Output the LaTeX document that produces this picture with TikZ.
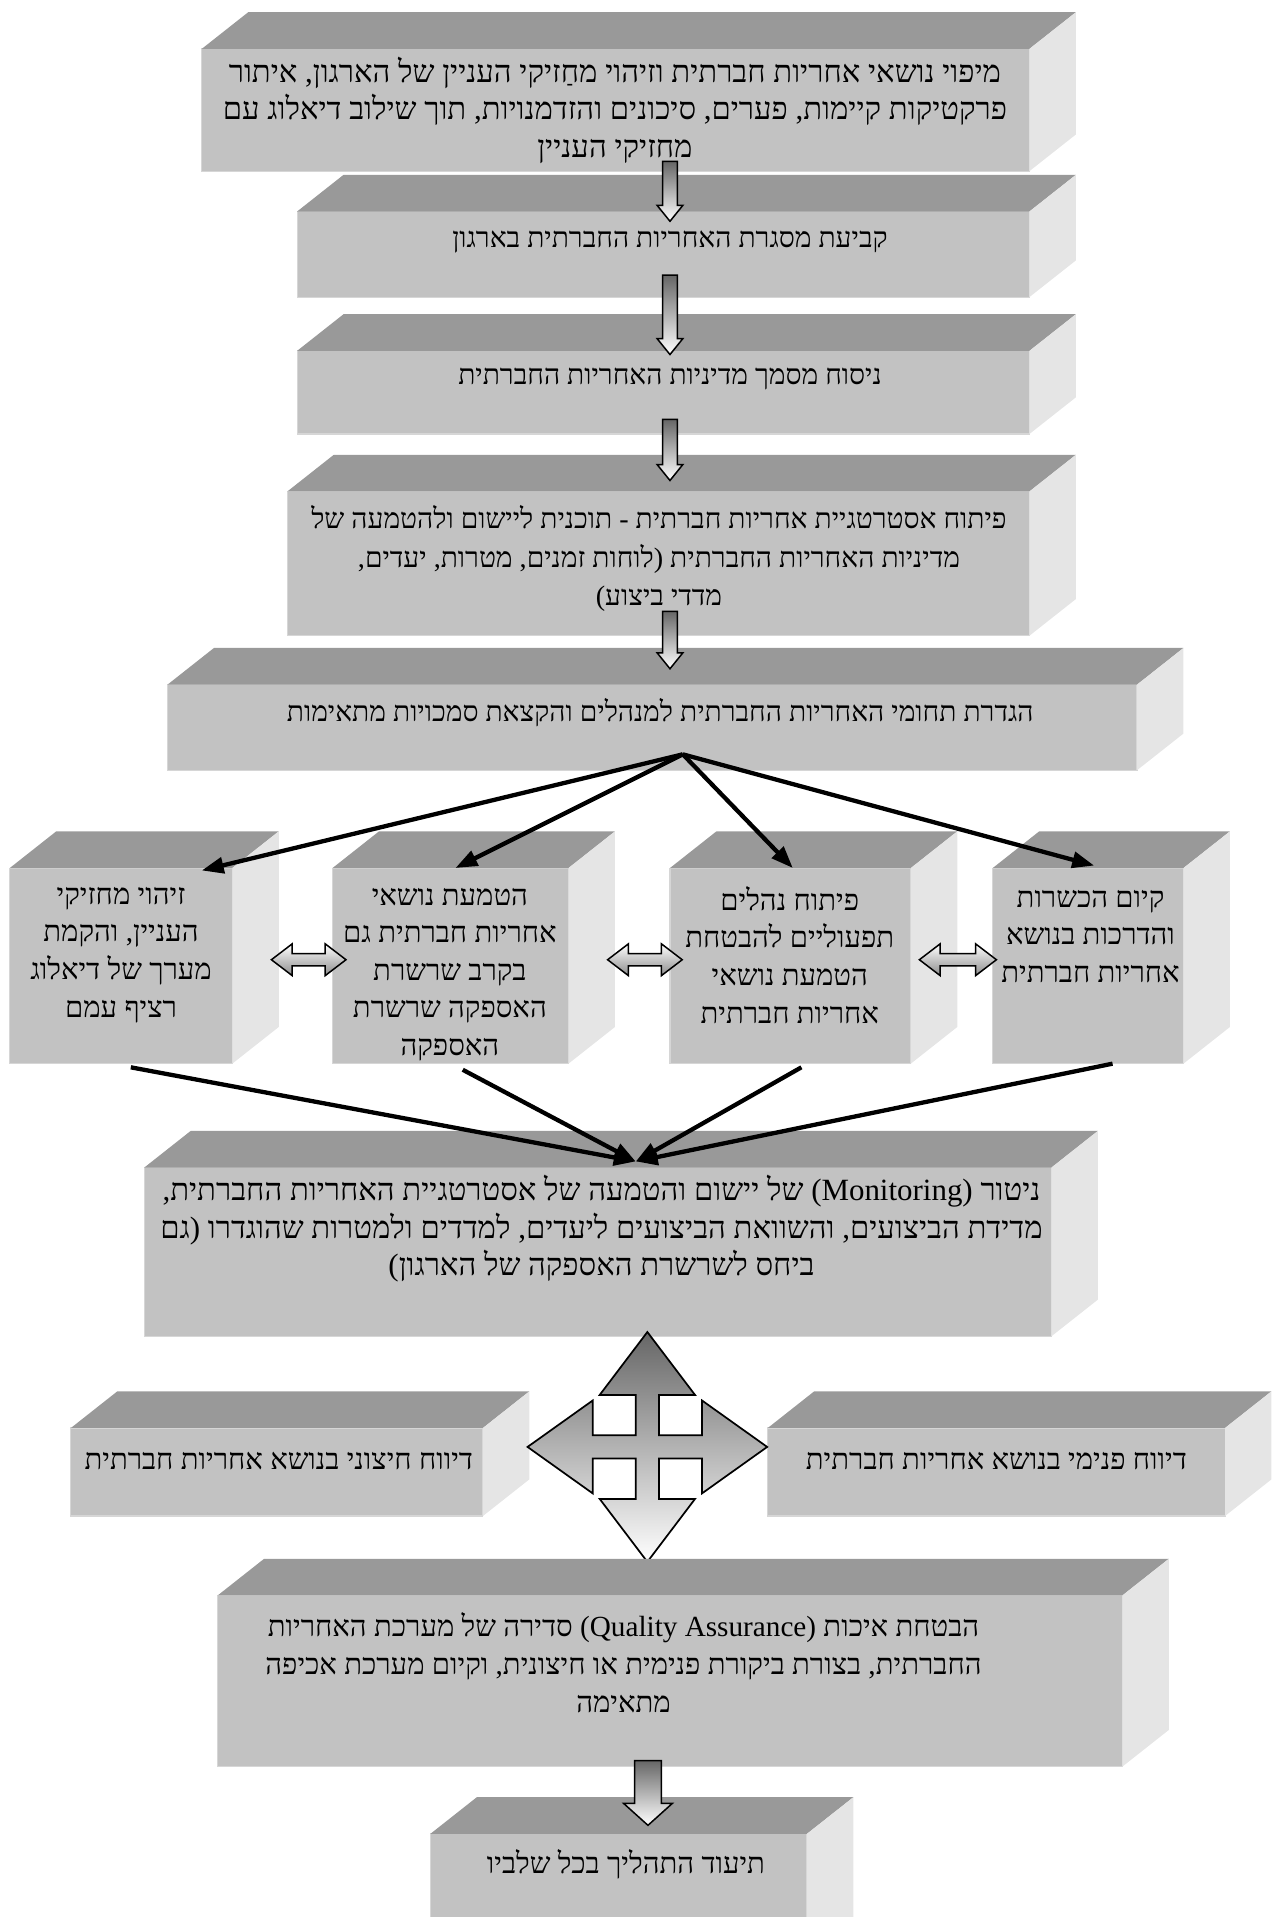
\documentclass[tikz,border=0pt]{standalone}
\usepackage{fontspec}
\usepackage{tikz}
\usetikzlibrary{calc}
\usetikzlibrary{fit}
\usetikzlibrary{arrows.meta}
\usepackage{xcolor}
\TeXXeTstate=1
\newfontfamily\hebfont[Script=Hebrew]{Liberation Serif}
\newcommand{\heb}[1]{\beginR #1\endR}

% 立体方块: 名称, 左上角, 右下角 (正面)
\newcommand{\slab}[5]{%
  \node[front, fit={(#2,#3) (#4,#5)}] (#1) {};
  \fill[topface] (#1.north west) -- ++(38,-30) -- ([shift={(38,-30)}]#1.north east) -- (#1.north east) -- cycle;
  \fill[sideface] (#1.north east) -- ++(38,-30) -- ([shift={(38,-30)}]#1.south east) -- (#1.south east) -- cycle;
}
% 向下的空心箭头: 起点, 箭尖, 杆半宽, 头半宽, 头长
\newcommand{\blockdown}[5]{%
  \draw[blockarrow] ($(#1)+(-#3,0)$) -- ($(#2)+(-#3,-#5)$) -- ($(#2)+(-#4,-#5)$) -- (#2)
    -- ($(#2)+(#4,-#5)$) -- ($(#2)+(#3,-#5)$) -- ($(#1)+(#3,0)$) -- cycle;
}
% 左右双向箭头: 左端, 右端, 杆半高, 头半高, 头长
\newcommand{\blockboth}[5]{%
  \draw[sidearrow] (#1) -- ($(#1)+(#5,-#4)$) -- ($(#1)+(#5,-#3)$) -- ($(#2)+(-#5,-#3)$)
    -- ($(#2)+(-#5,-#4)$) -- (#2) -- ($(#2)+(-#5,#4)$) -- ($(#2)+(-#5,#3)$)
    -- ($(#1)+(#5,#3)$) -- ($(#1)+(#5,#4)$) -- cycle;
}

\begin{document}
\begin{tikzpicture}[x=0.02cm, y=-0.02cm]
        % ================= 样式定义 =================
        \tikzset{
            % 方块正面
            front/.style={inner sep=0pt, outer sep=0pt, fill=black!24, draw=black!16, line width=0.5pt},
            % 方块顶面与侧面
            topface/.style={fill=black!40},
            sideface/.style={fill=black!10},
            % 文字 (宽行略大, 窄行略小)
            txt/.style={font=\fontsize{13.6}{17.5}\selectfont\hebfont, align=center, inner sep=0pt},
            bigtxt/.style={txt, font=\fontsize{14.4}{17.5}\selectfont\hebfont},
            smalltxt/.style={txt, font=\fontsize{13.1}{18}\selectfont\hebfont},
            % 渐变空心箭头
            blockarrow/.style={draw=black, line width=0.7pt, top color=black!60, bottom color=white},
            sidearrow/.style={draw=black, line width=0.7pt, top color=white, bottom color=black!45},
            crossarrow/.style={draw=black, line width=0.8pt, top color=black!60, bottom color=white},
            % 黑色实线箭头
            fanline/.style={line width=2pt, -{Triangle[length=3.6mm, width=2.6mm]}}
        }
        \useasboundingbox (0,0) rectangle (1042,1568);
        \clip (0,0) rectangle (1042,1568);

        % ================= 上部流程方块 =================
        \slab{map}{165}{40}{842}{140}
        \slab{frame}{243}{173}{842}{243}
        \slab{policy}{243}{287}{842}{355}
        \slab{strategy}{235}{402}{842}{520}
        \slab{define}{137}{560}{930}{630}

        \node[bigtxt] (t-map) at (503,90) {\heb{מיפוי נושאי אחריות חברתית וזיהוי מחַזיקי העניין של הארגון, איתור}\\
            \heb{פרקטיקות קיימות, פערים, סיכונים והזדמנויות, תוך שילוב דיאלוג עם}\\
            \heb{מחזיקי העניין}};
        \node[smalltxt] (t-frame) at (548,198) {\heb{קביעת מסגרת האחריות החברתית בארגון}};
        \node[smalltxt] (t-policy) at (548,310) {\heb{ניסוח מסמך מדיניות האחריות החברתית}};
        \node[smalltxt] (t-strategy) at (539,457) {\heb{פיתוח אסטרטגיית אחריות חברתית - תוכנית ליישום ולהטמעה של}\\
            \heb{מדיניות האחריות החברתית (לוחות זמנים, מטרות, יעדים,}\\
            \heb{מדדי ביצוע)}};
        \node[smalltxt] (t-define) at (540,583) {\heb{הגדרת תחומי האחריות החברתית למנהלים והקצאת סמכויות מתאימות}};

        % 向下箭头 (沿同一竖线)
        \coordinate (spine) at (548,0);
        \coordinate (s1) at ($(spine |- map.south)+(0,-8)$);
        \coordinate (e1) at ($(spine |- frame.north)+(0,8)$);
        \blockdown{s1}{e1}{6}{10.5}{13}
        \coordinate (s2) at ($(spine |- frame.south)+(0,-18)$);
        \coordinate (e2) at ($(spine |- policy.north)+(0,3)$);
        \blockdown{s2}{e2}{6}{10.5}{13}
        \coordinate (s3) at ($(spine |- policy.south)+(0,-12)$);
        \coordinate (e3) at ($(spine |- strategy.north)+(0,-9)$);
        \blockdown{s3}{e3}{6}{10.5}{13}
        \coordinate (s4) at ($(spine |- strategy.south)+(0,-20)$);
        \coordinate (e4) at ($(spine |- define.north)+(0,-13)$);
        \blockdown{s4}{e4}{6}{10.5}{13}

        % ================= 四个并列方块 =================
        \slab{stake}{8}{710}{190}{870}
        \slab{supply}{272}{710}{465}{870}
        \slab{proc}{548}{710}{745}{870}
        \slab{train}{812}{710}{968}{870}

        \node[txt] (t-stake) at (99,781) {\heb{זיהוי מחזיקי}\\\heb{העניין, והקמת}\\\heb{מערך של דיאלוג}\\\heb{רציף עמם}};
        \node[txt] (t-supply) at (368,797) {\heb{הטמעת נושאי}\\\heb{אחריות חברתית גם}\\\heb{בקרב שרשרת}\\\heb{האספקה שרשרת}\\\heb{האספקה}};
        \node[txt] (t-proc) at (646,781) {\heb{פיתוח נהלים}\\\heb{תפעוליים להבטחת}\\\heb{הטמעת נושאי}\\\heb{אחריות חברתית}};
        \node[txt] (t-train) at (892,766) {\heb{קיום הכשרות}\\\heb{והדרכות בנושא}\\\heb{אחריות חברתית}};

        % 分叉箭头
        \coordinate (fan) at ([shift={(25,-13)}]define.south);
        \draw[fanline] (fan) -- ([shift={(-25,2)}]stake.north east);
        \draw[fanline] (fan) -- ([shift={(4,0)}]supply.north);
        \draw[fanline] (fan) -- ([shift={(2,0)}]proc.north);
        \draw[fanline] (fan) -- ([shift={(5,-2)}]train.north);

        % 双向箭头
        \coordinate (ab1) at ($(stake.east)+(32,-5)$);
        \coordinate (ab2) at ($(supply.west)+(11,-5)$);
        \blockboth{ab1}{ab2}{5}{13}{17}
        \coordinate (bc1) at ($(supply.east)+(32,-5)$);
        \coordinate (bc2) at ($(proc.west)+(10,-5)$);
        \blockboth{bc1}{bc2}{5}{13}{17}
        \coordinate (cd1) at ($(proc.east)+(7,-5)$);
        \coordinate (cd2) at ($(train.west)+(3,-5)$);
        \blockboth{cd1}{cd2}{5}{13}{17}

        % ================= 监测方块 =================
        \slab{moni}{118}{955}{860}{1093}
        \node[bigtxt] (t-moni) at (492,1005) {\heb{ניטור (Monitoring) של יישום והטמעה של אסטרטגיית האחריות החברתית,}\\
            \heb{מדידת הביצועים, והשוואת הביצועים ליעדים, למדדים ולמטרות שהוגדרו (גם}\\
            \heb{ביחס לשרשרת האספקה של הארגון)}};

        % 汇合箭头
        \coordinate (join) at ([shift={(31,-5)}]moni.north);
        \draw[fanline] ([shift={(8,3)}]stake.south) -- (join);
        \draw[fanline] ([shift={(10,5)}]supply.south) -- (join);
        \draw[fanline] ([shift={(9,3)}]proc.south) -- (join);
        \draw[fanline] ([shift={(20,0)}]train.south) -- (join);

        % ================= 报告方块与十字箭头 =================
        \slab{extrep}{58}{1168}{395}{1240}
        \slab{intrep}{628}{1168}{1002}{1240}
        \node[txt] (t-extrep) at (228,1195) {\heb{דיווח חיצוני בנושא אחריות חברתית}};
        \node[txt] (t-intrep) at (815,1195) {\heb{דיווח פנימי בנושא אחריות חברתית}};

        \coordinate (hub) at (529.5,1183.5);
        \begin{scope}[shift={(hub)}]
            \draw[crossarrow] (0,-94) -- (39,-42.5) -- (9.5,-42.5) -- (9.5,-9.5) -- (44.7,-9.5) -- (44.7,-38)
                -- (98,0) -- (44.7,38) -- (44.7,9.5) -- (9.5,9.5) -- (9.5,42.5) -- (39,42.5)
                -- (0,94) -- (-39,42.5) -- (-9.5,42.5) -- (-9.5,9.5) -- (-44.7,9.5) -- (-44.7,38)
                -- (-98,0) -- (-44.7,-38) -- (-44.7,-9.5) -- (-9.5,-9.5) -- (-9.5,-42.5) -- (-39,-42.5) -- cycle;
        \end{scope}

        % ================= 质量保证与记录 =================
        \slab{qa}{178}{1305}{918}{1445}
        \node[txt] (t-qa) at (510,1360) {\heb{הבטחת איכות \beginL(Quality Assurance)\endL{} סדירה של מערכת האחריות}\\
            \heb{החברתית, בצורת ביקורת פנימית או חיצונית, וקיום מערכת אכיפה}\\
            \heb{מתאימה}};

        \slab{doc}{352}{1500}{660}{1600}
        \node[txt] (t-doc) at (512,1525) {\heb{תיעוד התהליך בכל שלביו}};

        \coordinate (s5) at ($(qa.south)+(-18,-5)$);
        \coordinate (e5) at ($(doc.north -| s5)+(0,-7)$);
        \blockdown{s5}{e5}{11}{20}{18}

\end{tikzpicture}
\end{document}
